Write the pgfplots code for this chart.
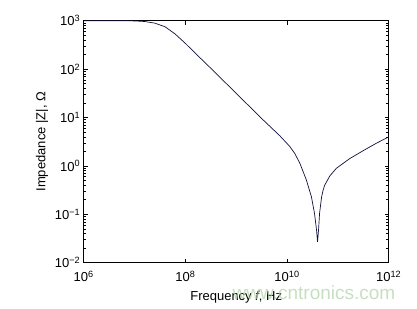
\documentclass[border=0pt]{standalone}
\usepackage{pgfplots}
\pgfplotsset{compat=1.18}
\usepackage{fontspec}
\setmainfont{Liberation Sans}
\definecolor{curve}{RGB}{15,15,60}
\definecolor{wm}{RGB}{175,210,165}
\begin{document}
\begin{tikzpicture}
\begin{axis}[
  scale only axis, width=305pt, height=242pt,
  xmode=log, ymode=log,
  xmin=1e6, xmax=1e12, ymin=1e-2, ymax=1e3,
  xtick={1e6,1e8,1e10,1e12},
  xticklabels={10\textsuperscript{6},10\textsuperscript{8},10\textsuperscript{10},10\textsuperscript{12}},
  ytick={1e-2,1e-1,1e0,1e1,1e2,1e3},
  yticklabels={10\textsuperscript{−2},10\textsuperscript{−1},10\textsuperscript{0},10\textsuperscript{1},10\textsuperscript{2},10\textsuperscript{3}},
  minor x tick num=0, xminorticks=false,
  tick align=inside, major tick length=4pt, minor tick length=2.5pt,
  tick style={black, line width=0.5pt},
  axis line style={black, line width=0.7pt},
  ticklabel style={font=\fontsize{13}{15}\selectfont},
  xticklabel style={yshift=-5pt},
  label style={font=\fontsize{13}{15}\selectfont},
  xlabel={Frequency \textit{f}, Hz},
  ylabel={Impedance |Z|, Ω},
  xlabel style={at={(axis description cs:0.5,-0.141)}, anchor=center},
  ylabel style={at={(axis description cs:-0.137,0.5)}, anchor=center},
  clip=true,
]
\addplot[color=curve, line width=0.7pt] coordinates {
(1e6,1000) (3.162e6,1000) (1e7,990) (1.585e7,962) (2.512e7,890)
(3.981e7,750) (6.310e7,530) (1e8,340) (1.585e8,210) (2.512e8,132)
(3.981e8,82) (1e9,31.6) (3.162e9,9.55) (7.244e9,4.17) (1.122e10,2.55)
(1.413e10,1.82) (1.778e10,1.15) (2.399e10,0.513) (3.020e10,0.229)
(3.467e10,0.105) (3.802e10,0.0479) (3.981e10,0.0269) (4.169e10,0.0479)
(4.365e10,0.105) (4.786e10,0.229) (5.129e10,0.316) (5.495e10,0.398)
(6.918e10,0.617) (9.333e10,0.891) (1.698e11,1.41) (3.090e11,2.04)
(5.754e11,2.95) (1e12,3.98)
};
\end{axis}
\node[text=wm, opacity=0.7, font=\fontsize{19}{21}\selectfont, inner sep=0pt] at (230.3pt,-30.5pt) {www.cntronics.com};
\path (-83.7pt,-45.5pt) rectangle (333.3pt,262.7pt);
\end{tikzpicture}
\end{document}
